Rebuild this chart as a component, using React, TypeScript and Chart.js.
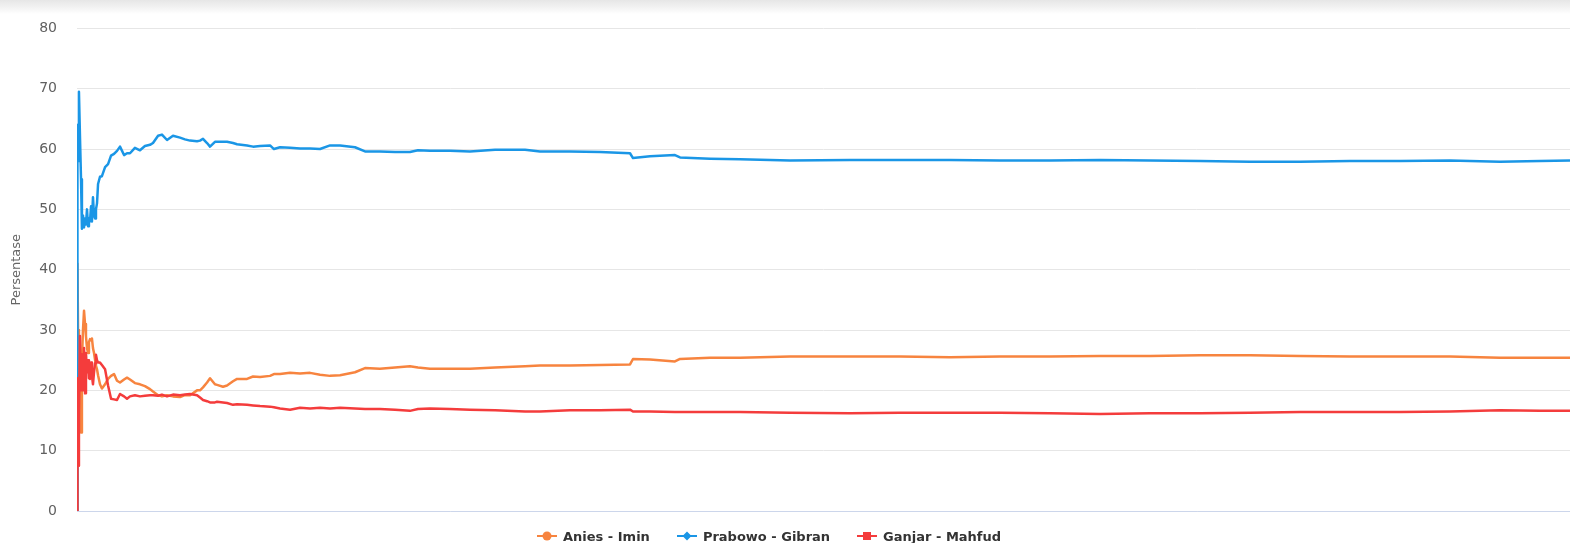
import React, { useEffect, useRef } from "react";
import { Chart, registerables } from "chart.js";

Chart.register(...registerables);

// progress of counting (0..1000, per mille of the time axis)
const progress = [
  0, 0.3, 0.7, 1.3, 2.0, 2.7, 3.3, 4.0, 4.7, 5.4, 6.0, 6.7, 7.4, 8.0, 8.7, 9.4, 10.0, 10.7, 11.4, 12.1,
  12.7, 13.4, 14.1, 15.4, 16.7, 18.8, 20.8, 22.8, 24.8, 26.8, 28.8, 31.5, 33.5, 35.5, 38.8, 42.2, 45.5,
  48.9, 50.9, 54.3, 56.9, 60.3, 64.3, 69.0, 72.3, 75.7, 80.4, 82.4, 84.4, 87.1, 89.1, 92.4, 93.8, 97.8,
  100.5, 104.5, 107.2, 113.9, 117.9, 122.6, 129.3, 131.9, 136.0, 142.7, 149.4, 156.1, 162.8, 169.5,
  176.2, 186.2, 192.9, 202.9, 213.0, 223.0, 228.4, 236.4, 249.8, 263.2, 280.0, 300.1, 310.1, 330.2,
  350.3, 370.4, 372.4, 383.8, 400.5, 403.9, 424.0, 444.1, 477.6, 517.7, 551.2, 584.7, 618.2, 651.7,
  685.2, 718.7, 752.2, 785.7, 819.2, 852.6, 886.1, 919.6, 953.1, 979.9, 1000,
];

const aniesImin = [
  0, 41, 30, 14, 20, 13, 25, 30, 33.2, 31, 29, 27, 26.2, 28, 28.5, 28.3, 28.6, 27, 26.2, 25,
  24.1, 23.5, 22.5, 21.0, 20.3, 21.0, 21.9, 22.4, 22.7, 21.6, 21.3, 21.8, 22.1, 21.8, 21.2, 21.0, 20.7,
  20.2, 19.8, 19.2, 19.0, 19.2, 19.0, 18.9, 19.2, 19.2, 20.0, 20.0, 20.5, 21.3, 22.0, 21.0, 20.9, 20.6,
  20.8, 21.5, 21.9, 21.9, 22.3, 22.2, 22.4, 22.7, 22.7, 22.9, 22.8, 22.9, 22.6, 22.4,
  22.5, 23.0, 23.7, 23.6, 23.8, 24.0, 23.8, 23.6, 23.6, 23.6, 23.8, 24.0, 24.1, 24.1,
  24.2, 24.3, 25.2, 25.1, 24.8, 25.2, 25.4, 25.4, 25.6, 25.6, 25.6, 25.5, 25.6, 25.6,
  25.7, 25.7, 25.8, 25.8, 25.7, 25.6, 25.6, 25.6, 25.4, 25.4, 25.4,
];

const prabowoGibran = [
  0, 64, 58, 69.5, 62, 55, 46.8, 49, 47, 48.5, 47.5, 50, 47.2, 48.5, 48, 50.5, 48, 52, 49, 48.5,
  50, 51, 54.2, 55.4, 55.5, 57, 57.5, 58.9, 59.2, 59.7, 60.4, 59.0, 59.3, 59.3, 60.2, 59.8, 60.5,
  60.7, 61.0, 62.2, 62.4, 61.5, 62.2, 61.9, 61.6, 61.4, 61.3, 61.4, 61.7, 61.0, 60.4, 61.2, 61.2, 61.2,
  61.2, 61.0, 60.8, 60.6, 60.4, 60.5, 60.6, 60.0, 60.3, 60.2, 60.1, 60.1, 60.0, 60.6,
  60.6, 60.3, 59.6, 59.6, 59.5, 59.5, 59.8, 59.7, 59.7, 59.6, 59.9, 59.9, 59.6, 59.6,
  59.5, 59.3, 58.5, 58.8, 59.0, 58.6, 58.4, 58.3, 58.1, 58.2, 58.2, 58.2, 58.1, 58.1,
  58.2, 58.1, 58.0, 57.9, 57.9, 58.0, 58.0, 58.1, 57.9, 58.0, 58.1,
];

const ganjarMahfud = [
  0, 22, 7.5, 16, 29, 20, 26, 20, 27, 19.5, 26.2, 23, 25, 22, 21.9, 24.6, 22.5, 21.0, 23, 24.5,
  25.9, 25, 24.6, 24.6, 24.2, 23.5, 20.8, 18.6, 18.5, 18.4, 19.4, 19.0, 18.6, 19.0, 19.2, 19.0, 19.1,
  19.2, 19.2, 19.1, 19.3, 19.0, 19.3, 19.2, 19.3, 19.4, 19.2, 18.8, 18.4, 18.2, 18.0, 18.0, 18.1, 18.0,
  17.9, 17.6, 17.7, 17.6, 17.5, 17.4, 17.3, 17.2, 17.0, 16.8, 17.1, 17.0, 17.1, 17.0,
  17.1, 17.0, 16.9, 16.9, 16.8, 16.6, 16.9, 17.0, 16.9, 16.8, 16.7, 16.5, 16.5, 16.7,
  16.7, 16.8, 16.5, 16.5, 16.4, 16.4, 16.4, 16.4, 16.3, 16.2, 16.3, 16.3, 16.3, 16.2,
  16.1, 16.2, 16.2, 16.3, 16.4, 16.4, 16.4, 16.5, 16.7, 16.6, 16.6,
];

const yTicks = [0, 10, 20, 30, 40, 50, 60, 70, 80];
const seriesNames = ["Anies - Imin", "Prabowo - Gibran", "Ganjar - Mahfud"];
const seriesColors = ["#f7843f", "#1a96e6", "#f43c3c"];
const markers = ["circle", "diamond", "square"];

function Marker({ kind, color }: { kind: string; color: string }) {
  return (
    <svg width="20" height="12" style={{ display: "block" }}>
      <line x1="0" y1="6" x2="20" y2="6" stroke={color} strokeWidth="2" />
      {kind === "circle" && <circle cx="10" cy="6" r="4.5" fill={color} />}
      {kind === "diamond" && <path d="M10 1.5 L14.5 6 L10 10.5 L5.5 6 Z" fill={color} />}
      {kind === "square" && <rect x="6" y="2" width="8" height="8" fill={color} />}
    </svg>
  );
}

export default function App() {
  const ref = useRef<HTMLCanvasElement | null>(null);

  useEffect(() => {
    if (!ref.current) return;
    const mk = (arr: number[]) => arr.map((v, i) => ({ x: progress[i], y: v }));
    const all = [aniesImin, prabowoGibran, ganjarMahfud];
    const chart = new Chart(ref.current, {
      type: "line",
      data: {
        datasets: all.map((arr, i) => ({
          label: seriesNames[i],
          data: mk(arr),
          borderColor: seriesColors[i],
          backgroundColor: seriesColors[i],
          borderWidth: 2.5,
          pointRadius: 0,
          tension: 0,
          borderJoinStyle: "round" as const,
          order: 2 - i,
        })),
      },
      options: {
        responsive: false,
        animation: false,
        layout: { padding: { top: 18, right: 0, bottom: 32, left: 0 } },
        plugins: { legend: { display: false }, tooltip: { enabled: false } },
        scales: {
          x: {
            type: "linear",
            min: 0,
            max: 1000,
            ticks: { display: false },
            grid: { display: false },
            border: { display: true, color: "#ccd6eb", width: 1 },
            afterFit: (s: any) => {
              s.height = 0;
            },
          },
          y: {
            min: 0,
            max: 80,
            afterBuildTicks: (s: any) => {
              s.ticks = yTicks.map((v) => ({ value: v }));
            },
            ticks: {
              color: "#606060",
              font: { family: "DejaVu Sans", size: 14 },
              padding: 20,
            },
            grid: { color: "#e6e6e6", lineWidth: 1, drawTicks: false },
            border: { display: false },
            title: {
              display: true,
              text: "Persentase",
              color: "#666666",
              font: { family: "DejaVu Sans", size: 13 },
              padding: { top: 9, bottom: 0 },
            },
            afterFit: (s: any) => {
              s.width = 77;
            },
          },
        },
      },
    });
    return () => chart.destroy();
  }, []);

  return (
    <div style={{ position: "fixed", left: 0, top: 0, width: 1570, height: 543, background: "#fff", overflow: "hidden" }}>
      <div
        style={{
          position: "absolute",
          left: 0,
          top: 0,
          width: 1570,
          height: 14,
          background: "linear-gradient(#e6e6e6, #f4f4f4 60%, #ffffff)",
        }}
      />
      <canvas ref={ref} width={1570} height={543} style={{ position: "absolute", left: 0, top: 0 }} />
      <div
        style={{
          position: "absolute",
          left: 537,
          top: 527,
          display: "flex",
          alignItems: "center",
          fontFamily: "DejaVu Sans",
          fontWeight: "bold",
          fontSize: 13,
          color: "#333333",
          whiteSpace: "nowrap",
        }}
      >
        {seriesNames.map((n, i) => (
          <div key={n} style={{ display: "flex", alignItems: "center", marginRight: 27, height: 18 }}>
            <Marker kind={markers[i]} color={seriesColors[i]} />
            <span style={{ marginLeft: 6 }}>{n}</span>
          </div>
        ))}
      </div>
    </div>
  );
}
